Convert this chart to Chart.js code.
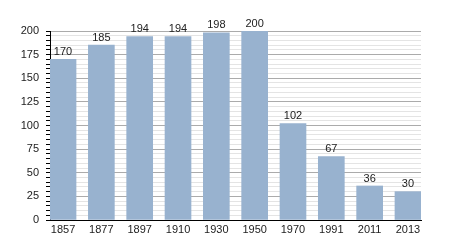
<!DOCTYPE html>
<html>
<head>
<meta charset="UTF-8">
<style>
  body { margin: 0; background: #fff; }
  #c { display: block; }
</style>
</head>
<body>
<canvas id="c" width="450" height="250" style="width:450px;height:250px"></canvas>
<script src="https://cdn.jsdelivr.net/npm/chart.js"></script>
<script>
// years and population
const years = ["1857", "1877", "1897", "1910", "1930", "1950", "1970", "1991", "2011", "2013"];
const population = [170, 185, 194, 194, 198, 200, 102, 67, 36, 30];
const yTicks = [0, 25, 50, 75, 100, 125, 150, 175, 200];

const barColor = '#98b2cf';
const font = { family: 'Liberation Sans, Arial, sans-serif', size: 11 };

// labels above each bar
const valueLabels = {
    id: 'valueLabels',
    afterDatasetsDraw(chart) {
        const ctx = chart.ctx;
        const meta = chart.getDatasetMeta(0);
        ctx.save();
        ctx.font = font.size + 'px ' + font.family;
        ctx.fillStyle = '#222';
        ctx.textAlign = 'center';
        ctx.textBaseline = 'bottom';
        meta.data.forEach((bar, i) => {
            ctx.fillText(population[i], bar.x, bar.y - 2);
        });
        ctx.restore();
    }
};

new Chart(document.getElementById('c'), {
    type: 'bar',
    data: {
        datasets: [{
            data: population.map((v, i) => ({ x: i, y: v })),
            backgroundColor: barColor,
            barThickness: 26
        }]
    },
    options: {
        responsive: false,
        animation: false,
        layout: { padding: { left: 0, right: 29, top: 31, bottom: 0 } },
        plugins: { legend: { display: false }, tooltip: { enabled: false } },
        scales: {
            x: {
                type: 'linear',
                offset: false,
                min: -0.34,
                max: 9.34,
                grid: { display: true, drawOnChartArea: false, drawTicks: false },
                border: { display: true, color: '#000', width: 1 },
                ticks: {
                    stepSize: 1,
                    includeBounds: false,
                    autoSkip: false,
                    maxRotation: 0,
                    padding: 3,
                    color: '#222',
                    font: font,
                    callback: (v) => Number.isInteger(v) ? years[v] : ''
                },
                afterFit: (s) => { s.height = 30; }
            },
            y: {
                min: 0,
                max: 200,
                grid: {
                    color: (c) => c.tick.value % 25 === 0 ? '#ababab' : '#e4e4e4',
                    tickColor: '#000',
                    tickLength: 4
                },
                border: { display: true, color: '#000', width: 1 },
                ticks: {
                    stepSize: 5,
                    autoSkip: false,
                    padding: 7,
                    color: '#222',
                    font: font,
                    callback: (v) => yTicks.includes(v) ? v : ''
                },
                afterFit: (s) => { s.width = 50; }
            }
        }
    },
    plugins: [valueLabels]
});
</script>
</body>
</html>
